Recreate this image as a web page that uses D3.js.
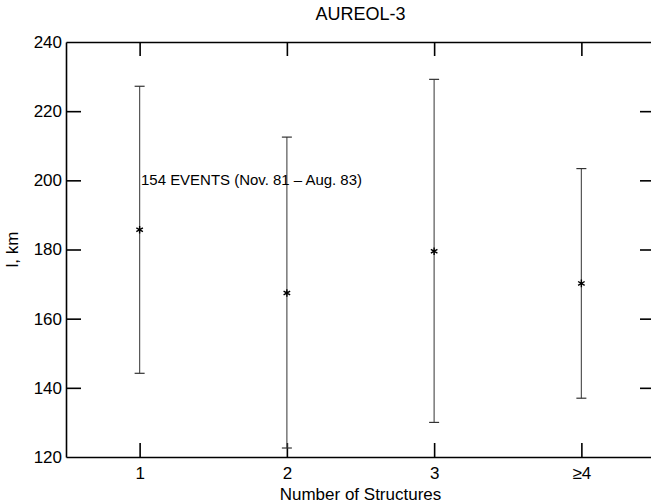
<!DOCTYPE html>
<html>
<head>
<meta charset="utf-8">
<script src="https://cdn.jsdelivr.net/npm/d3@7"></script>
<style>
  body { margin: 0; background: #fff; }
  svg { display: block; font-family: "Liberation Sans", Arial, sans-serif; }
</style>
</head>
<body>
<div id="chart"></div>
<script>
// chart data
const categories = [1, 2, 3, 4];
const tickLabels = ['1', '2', '3', '≥4'];
const means = [185.7, 167.4, 179.5, 170.2];
const upper = [227.2, 212.5, 229.2, 203.4];
const lower = [144.2, 122.6, 130.0, 137.0];
const yTicks = [120, 140, 160, 180, 200, 220, 240];

const width = 651, height = 504;
const margin = { top: 42, right: -4, bottom: 47, left: 66 };

const svg = d3.select('#chart')
    .append('svg')
    .attr('width', width)
    .attr('height', height);

const x = d3.scaleLinear()
    .domain([0.5, 4.5])
    .range([margin.left, width - margin.right]);

const y = d3.scaleLinear()
    .domain([120, 240])
    .range([height - margin.bottom, margin.top]);

const x0 = margin.left, x1 = width - margin.right;
const y0 = height - margin.bottom, y1 = margin.top;

// axes - box style with inward ticks
const axisStyle = g => {
    g.select('.domain').attr('stroke-width', 1.6);
    g.selectAll('.tick line').attr('stroke-width', 1.6);
    g.selectAll('.tick text').attr('font-size', 17).attr('fill', '#000');
};

svg.append('g')
    .attr('transform', `translate(0,${y0})`)
    .call(d3.axisBottom(x).tickValues(categories)
        .tickFormat((d, i) => tickLabels[i])
        .tickSize(-14).tickSizeOuter(0).tickPadding(10))
    .call(axisStyle);

svg.append('g')
    .attr('transform', `translate(0,${y1})`)
    .call(d3.axisTop(x).tickValues(categories)
        .tickFormat('').tickSize(-14).tickSizeOuter(0))
    .call(axisStyle);

svg.append('g')
    .attr('transform', `translate(${x0},0)`)
    .call(d3.axisLeft(y).tickValues(yTicks)
        .tickSize(-15).tickSizeOuter(0).tickPadding(4))
    .call(axisStyle)
    .call(g => g.selectAll('.tick line').filter(d => d === 120 || d === 240).remove());

svg.append('g')
    .attr('transform', `translate(${x1},0)`)
    .call(d3.axisRight(y).tickValues(yTicks.filter(d => d !== 120 && d !== 240))
        .tickFormat('').tickSize(-15).tickSizeOuter(0))
    .call(axisStyle);

// error bars
const bars = svg.append('g');
categories.forEach((c, i) => {
    const cx = x(c);
    bars.append('line')
        .attr('x1', cx).attr('x2', cx)
        .attr('y1', y(upper[i])).attr('y2', y(lower[i]))
        .attr('stroke', '#555').attr('stroke-width', 1.2);
    [upper[i], lower[i]].forEach(v => {
        bars.append('line')
            .attr('x1', cx - 5).attr('x2', cx + 5)
            .attr('y1', y(v)).attr('y2', y(v))
            .attr('stroke', '#333').attr('stroke-width', 1.2);
    });
});

// mean markers
svg.append('g')
    .selectAll('path')
    .data(categories)
    .join('path')
    .attr('transform', (d, i) => `translate(${x(d)},${y(means[i])})`)
    .attr('d', d3.symbol(d3.symbolAsterisk, 40))
    .attr('fill', 'none')
    .attr('stroke', '#000')
    .attr('stroke-width', 1.4);

// title and labels
svg.append('text')
    .attr('x', (x0 + x1) / 2).attr('y', 20)
    .attr('text-anchor', 'middle')
    .attr('font-size', 18)
    .text('AUREOL-3');

svg.append('text')
    .attr('x', (x0 + x1) / 2).attr('y', 500)
    .attr('text-anchor', 'middle')
    .attr('font-size', 17)
    .text('Number of Structures');

svg.append('text')
    .attr('transform', `translate(18,${(y0 + y1) / 2}) rotate(-90)`)
    .attr('text-anchor', 'middle')
    .attr('font-size', 17)
    .text('l, km');

svg.append('text')
    .attr('x', 141).attr('y', 185)
    .attr('font-size', 14)
    .attr('textLength', 221)
    .attr('lengthAdjust', 'spacingAndGlyphs')
    .text('154 EVENTS (Nov. 81 – Aug. 83)');
</script>
</body>
</html>
